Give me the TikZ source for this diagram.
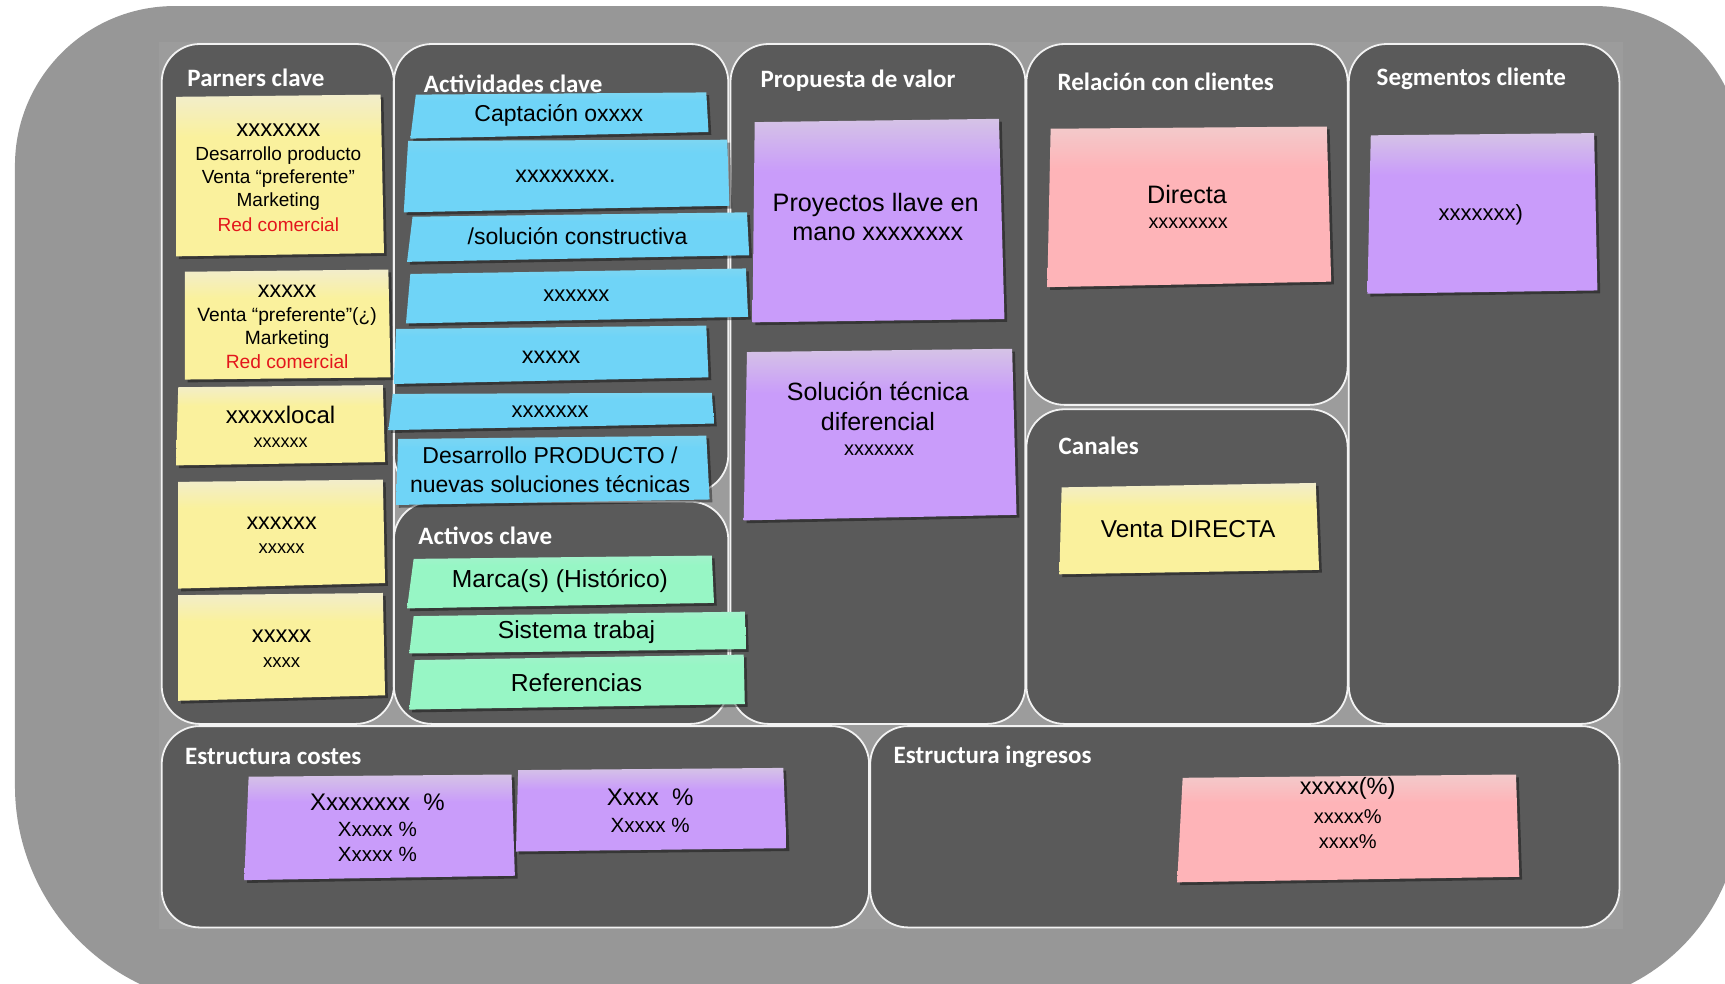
\documentclass[tikz,border=0pt]{standalone}
\usepackage{fontspec}
\setmainfont{Liberation Sans}
\newfontfamily\carlito{Carlito}

\definecolor{outerg}{HTML}{979797}
\definecolor{innerg}{HTML}{9C9C9C}
\definecolor{panelg}{HTML}{5A5A5A}
\definecolor{nY}{HTML}{FAF19D}
\definecolor{nYt}{HTML}{F2EDCB}
\definecolor{nB}{HTML}{6FD4F7}
\definecolor{nBt}{HTML}{7DD6F2}
\definecolor{nG}{HTML}{97F6C5}
\definecolor{nGt}{HTML}{A3F2CC}
\definecolor{nP}{HTML}{C99CFA}
\definecolor{nPt}{HTML}{D5C3E6}
\definecolor{nK}{HTML}{FEB4B8}
\definecolor{nKt}{HTML}{F3CACB}
\definecolor{redtxt}{HTML}{E3161C}

\pgfdeclareverticalshading{shY}{100bp}{color(0bp)=(nY);color(25bp)=(nY);color(62bp)=(nY);color(75bp)=(nYt);color(100bp)=(nYt)}
\pgfdeclareverticalshading{shB}{100bp}{color(0bp)=(nB);color(25bp)=(nB);color(66bp)=(nB);color(75bp)=(nBt);color(100bp)=(nBt)}
\pgfdeclareverticalshading{shG}{100bp}{color(0bp)=(nG);color(25bp)=(nG);color(66bp)=(nG);color(75bp)=(nGt);color(100bp)=(nGt)}
\pgfdeclareverticalshading{shP}{100bp}{color(0bp)=(nP);color(25bp)=(nP);color(62bp)=(nP);color(75bp)=(nPt);color(100bp)=(nPt)}
\pgfdeclareverticalshading{shK}{100bp}{color(0bp)=(nK);color(25bp)=(nK);color(62bp)=(nK);color(75bp)=(nKt);color(100bp)=(nKt)}

\newcommand\stickynote[5]{%
  \fill[black,opacity=0.4,xshift=1.4pt,yshift=-1.4pt] #2 -- #3 -- #4 -- #5 -- cycle;
  \shade[shading=#1] #2 -- #3 -- #4 -- #5 -- cycle;}
\newcommand\notefs[1]{\fontsize{#1}{#1}\selectfont}

\tikzset{
  panel/.style={fill=panelg, draw=white!90!gray, line width=0.9pt, rounded corners=19pt},
  ttl/.style={anchor=west, inner sep=0pt, text=white, font=\carlito\bfseries\notefs{12.5}},
  ntx/.style={inner sep=0pt, text=black, anchor=center},
  rtx/.style={ntx, text=redtxt},
}

\begin{document}
\begin{tikzpicture}[x=0.55pt, y=-0.55pt]
\useasboundingbox (0,0) rectangle (1568,894);
\clip (0,0) rectangle (1568,894);

% outer background
\fill[outerg] (13.6,150.5) .. controls (13.6,70.5) and (78.6,5.5) .. (158.6,5.5)
  -- (1450,5.5) .. controls (1522.9,5.5) and (1582,64.6) .. (1582,137.5)
  -- (1582,732) .. controls (1582,832.5) and (1500.5,914) .. (1400,914)
  -- (213.6,914) .. controls (103.2,914) and (13.6,824.4) .. (13.6,714) -- cycle;
\fill[innerg] (144.5,38) rectangle (1475.5,844.5);

% panels
\draw[panel] (147,40) rectangle (358,658);
\draw[panel] (358,40) rectangle (662,448);
\draw[panel] (358,456) rectangle (662,658);
\draw[panel] (664,40) rectangle (932,658);
\draw[panel] (933,40) rectangle (1225,368);
\draw[panel] (933,372) rectangle (1225,658);
\draw[panel] (1226,40) rectangle (1472,658);
\draw[panel] (147,660) rectangle (790,843);
\draw[panel] (791,660) rectangle (1472,843);

% titles
\node[ttl] (tPar) at (170,71) {Parners clave};
\node[ttl] (tAct) at (385,76) {Actividades clave};
\node[ttl] (tPro) at (691,73) {Propuesta de valor};
\node[ttl] (tRel) at (961,74) {Relación con clientes};
\node[ttl] (tSeg) at (1251,72) {Segmentos cliente};
\node[ttl] (tCan) at (962,405) {Canales};
\node[ttl] (tAcv) at (380,487) {Activos clave};
\node[ttl] (tCos) at (168,688) {Estructura costes};
\node[ttl] (tIng) at (812,688) {Estructura ingresos};

% Parners clave notes
\stickynote{shY}{(160,88)}{(346,86)}{(349,230)}{(160,233)}
\node[ntx, font=\notefs{12}] (p1a) at (253,118) {xxxxxxx};
\node[ntx, font=\notefs{9.5}] (p1b) at (253,141) {Desarrollo producto};
\node[ntx, font=\notefs{9.5}] (p1c) at (253,162) {Venta “preferente”};
\node[ntx, font=\notefs{9.5}] (p1d) at (253,183) {Marketing};
\node[rtx, font=\notefs{9.5}] (p1e) at (253,204) {Red comercial};

\stickynote{shY}{(168,247)}{(353,245)}{(355,343)}{(168,345)}
\node[ntx, font=\notefs{11.7}] (p2a) at (261,265) {xxxxx};
\node[ntx, font=\notefs{9.6}] (p2b) at (261,288) {Venta “preferente”(¿)};
\node[ntx, font=\notefs{9.6}] (p2c) at (261,309) {Marketing};
\node[rtx, font=\notefs{9.6}] (p2d) at (261,329) {Red comercial};

\stickynote{shY}{(162,352)}{(348,350)}{(350,420)}{(160,423)}
\node[ntx, font=\notefs{12}] (p3a) at (255,377) {xxxxxlocal};
\node[ntx, font=\notefs{9}] (p3b) at (255,402) {xxxxxx};

\stickynote{shY}{(162,438)}{(348,436)}{(350,530)}{(162,535)}
\node[ntx, font=\notefs{11.7}] (p4a) at (256,476) {xxxxxx};
\node[ntx, font=\notefs{9.2}] (p4b) at (256,499) {xxxxx};

\stickynote{shY}{(162,541)}{(348,539)}{(350,632)}{(162,637)}
\node[ntx, font=\notefs{11.9}] (p5a) at (256,578) {xxxxx};
\node[ntx, font=\notefs{9.3}] (p5b) at (256,602) {xxxx};

% Actividades clave notes
\stickynote{shB}{(378,86)}{(642,84)}{(644,120)}{(373,126)}
\node[ntx, font=\notefs{11.5}] (a1) at (508,105) {Captación oxxxx};
\stickynote{shB}{(371,128)}{(661,127)}{(663,187)}{(367,193)}
\node[ntx, font=\notefs{11.7}] (a2) at (514,160) {xxxxxxxx.};
\stickynote{shB}{(375,197)}{(679,193)}{(681,232)}{(370,238)}
\node[ntx, font=\notefs{11.5}] (a3) at (525,215) {/solución constructiva};
\stickynote{shB}{(373,249)}{(678,244)}{(680,288)}{(369,294)}
\node[ntx, font=\notefs{11}] (a4) at (524,269) {xxxxxx};
\stickynote{shB}{(360,299)}{(642,296)}{(644,343)}{(358,349)}
\node[ntx, font=\notefs{11.7}] (a5) at (501,325) {xxxxx};
\stickynote{shB}{(357,358)}{(647,357)}{(649,385)}{(353,391)}
\node[ntx, font=\notefs{11}] (a6) at (500,374) {xxxxxxx};
\stickynote{shB}{(362,399)}{(642,396)}{(645,454)}{(360,459)}
\node[ntx, font=\notefs{11.5}] (a7a) at (500,414) {Desarrollo PRODUCTO /};
\node[ntx, font=\notefs{11.5}] (a7b) at (500,440) {nuevas soluciones técnicas};

% Activos clave notes
\stickynote{shG}{(376,508)}{(647,505)}{(649,548)}{(370,553)}
\node[ntx, font=\notefs{12.3}] (g1) at (509,528) {Marca(s) (Histórico)};
\stickynote{shG}{(376,560)}{(677,556)}{(678,590)}{(372,594)}
\node[ntx, font=\notefs{12.3}] (g2) at (524,575) {Sistema trabaj};
\stickynote{shG}{(377,600)}{(676,595)}{(677,640)}{(372,645)}
\node[ntx, font=\notefs{12.3}] (g3) at (524,621) {Referencias};

% Propuesta de valor notes
\stickynote{shP}{(686,111)}{(908,108)}{(913,290)}{(684,293)}
\node[ntx, font=\notefs{12.6}] (v1a) at (796,186) {Proyectos llave en};
\node[ntx, font=\notefs{12.6}] (v1b) at (798,213) {mano xxxxxxxx};
\stickynote{shP}{(679,320)}{(920,317)}{(924,468)}{(676,473)}
\node[ntx, font=\notefs{12.5}] (v2a) at (798,356) {Solución técnica};
\node[ntx, font=\notefs{12.5}] (v2b) at (798,383) {diferencial};
\node[ntx, font=\notefs{10}] (v2c) at (799,409) {xxxxxxx};

% Relacion con clientes
\stickynote{shK}{(955,117)}{(1206,115)}{(1210,256)}{(952,261)}
\node[ntx, font=\notefs{12.6}] (r1a) at (1079,177) {Directa};
\node[ntx, font=\notefs{9.9}] (r1b) at (1080,203) {xxxxxxxx};

% Segmentos cliente
\stickynote{shP}{(1246,123)}{(1449,121)}{(1452,264)}{(1243,267)}
\node[ntx, font=\notefs{11}] (s1) at (1346,195) {xxxxxxx)};

% Canales
\stickynote{shY}{(965,443)}{(1196,439)}{(1199,518)}{(963,522)}
\node[ntx, font=\notefs{12.2}] (c1) at (1080,481) {Venta DIRECTA};

% Estructura costes
\stickynote{shP}{(226,706)}{(465,704)}{(468,796)}{(222,800)}
\node[ntx, font=\notefs{12}] (k1a) at (343,729) {Xxxxxxxx\hspace{0.55em}\%};
\node[ntx, font=\notefs{10.3}] (k1b) at (343,754) {Xxxxx \%};
\node[ntx, font=\notefs{10.3}] (k1c) at (343,777) {Xxxxx \%};
\stickynote{shP}{(471,700)}{(712,698)}{(715,771)}{(469,774)}
\node[ntx, font=\notefs{12}] (k2a) at (591,725) {Xxxx\hspace{0.55em}\%};
\node[ntx, font=\notefs{10.3}] (k2b) at (591,750) {Xxxxx \%};

% Estructura ingresos
\stickynote{shK}{(1075,707)}{(1378,704)}{(1381,797)}{(1070,802)}
\node[ntx, font=\notefs{11.8}] (i1a) at (1225,717) {xxxxx(\%)};
\node[ntx, font=\notefs{10}] (i1b) at (1225,742) {xxxxx\%};
\node[ntx, font=\notefs{10}] (i1c) at (1225,765) {xxxx\%};
\end{tikzpicture}
\end{document}
